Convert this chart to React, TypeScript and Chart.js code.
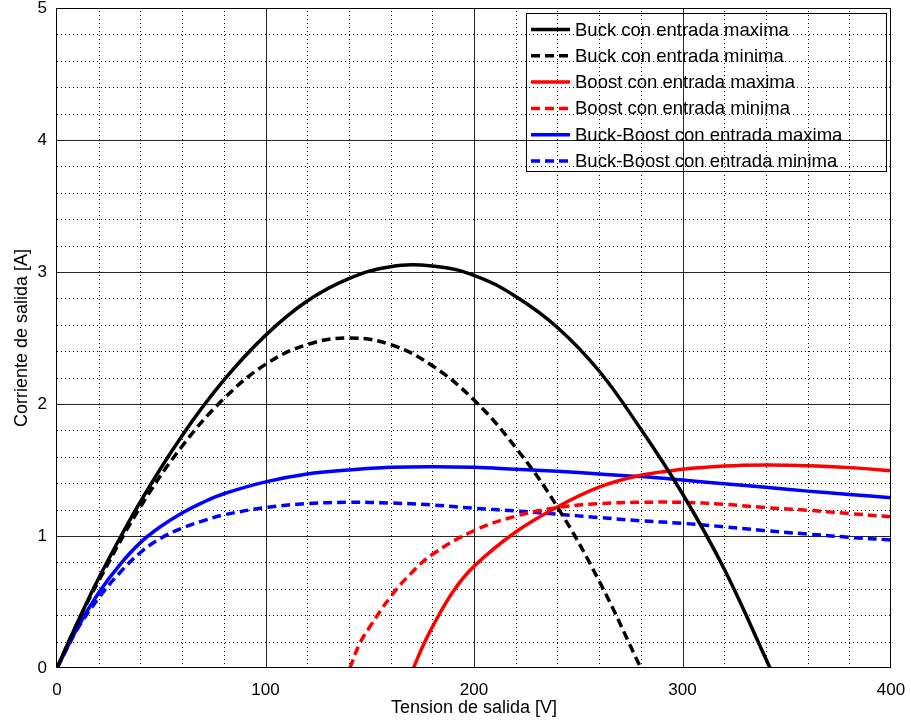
import React, { useEffect, useRef } from "react";
import { Chart, registerables } from "chart.js";

Chart.register(...registerables);

// ---- Data ----
const buckMaxV = [0, 10, 20, 40, 60, 80, 100, 120, 140, 160, 180, 200, 220, 240, 260, 280, 300, 320, 342];
const buckMaxI = [0, 0.35, 0.68, 1.26, 1.76, 2.18, 2.52, 2.78, 2.95, 3.04, 3.045, 2.975, 2.815, 2.58, 2.25, 1.81, 1.32, 0.75, 0];

const buckMinV = [0, 10, 20, 40, 60, 80, 100, 120, 140, 160, 180, 200, 220, 240, 260, 280];
const buckMinI = [0, 0.35, 0.66, 1.22, 1.68, 2.04, 2.3, 2.45, 2.5, 2.45, 2.29, 2.03, 1.67, 1.22, 0.66, 0];

const boostMaxV = [171, 175, 180, 190, 200, 220, 240, 260, 280, 300, 320, 340, 360, 380, 400];
const boostMaxI = [0, 0.15, 0.31, 0.58, 0.77, 1.03, 1.22, 1.37, 1.46, 1.505, 1.53, 1.538, 1.533, 1.518, 1.495];

const boostMinV = [140.5, 145, 150, 160, 170, 180, 200, 220, 240, 260, 280, 300, 320, 340, 360, 380, 400];
const boostMinI = [0, 0.18, 0.31, 0.54, 0.72, 0.86, 1.04, 1.15, 1.215, 1.245, 1.255, 1.255, 1.24, 1.215, 1.195, 1.17, 1.146];

const buckBoostV = [0, 10, 20, 30, 40, 50, 60, 70, 80, 100, 120, 140, 160, 180, 200, 220, 240, 260, 280, 300, 320, 340, 360, 380, 400];
const buckBoostMaxI = [0, 0.31, 0.57, 0.78, 0.95, 1.075, 1.175, 1.255, 1.32, 1.41, 1.47, 1.5, 1.52, 1.525, 1.52, 1.505, 1.49, 1.47, 1.45, 1.424, 1.395, 1.369, 1.34, 1.315, 1.29];
const buckBoostMinI = [0, 0.3, 0.53, 0.72, 0.875, 0.985, 1.06, 1.115, 1.16, 1.215, 1.245, 1.255, 1.25, 1.235, 1.21, 1.19, 1.165, 1.14, 1.115, 1.096, 1.07, 1.04, 1.015, 0.99, 0.97];

const seriesLabels = [
  "Buck con entrada maxima",
  "Buck con entrada minima",
  "Boost con entrada maxima",
  "Boost con entrada minima",
  "Buck-Boost con entrada maxima",
  "Buck-Boost con entrada minima",
];
const seriesColors = ["#000000", "#000000", "#ff0000", "#ff0000", "#0000ff", "#0000ff"];
const seriesDashed = [false, true, false, true, false, true];

const xTitle = "Tension de salida [V]";
const yTitle = "Corriente de salida [A]";
const xMin = 0, xMax = 400, xMajorStep = 100, xMinorStep = 20;
const yMin = 0, yMax = 5, yMajorStep = 1, yMinorStep = 0.2;

const FONT = '"Liberation Sans", Arial, Helvetica, sans-serif';
const DASH = [9, 5];
const LW = 3.5;

const zip = (xs: number[], ys: number[]) => xs.map((x, i) => ({ x, y: ys[i] }));

const gridPlugin = {
  id: "matlabGrid",
  beforeDatasetsDraw(chart: any) {
    const { ctx, chartArea, scales } = chart;
    const { left, right, top, bottom } = chartArea;
    const xs = scales.x, ys = scales.y;
    ctx.save();
    ctx.lineWidth = 1;
    ctx.strokeStyle = "#000";
    ctx.setLineDash([1, 3]);
    for (let v = xMin + xMinorStep; v < xMax - 1e-9; v += xMinorStep) {
      if (Math.abs(v / xMajorStep - Math.round(v / xMajorStep)) < 1e-6) continue;
      const px = Math.round(xs.getPixelForValue(v)) + 0.5;
      ctx.beginPath(); ctx.moveTo(px, bottom); ctx.lineTo(px, top); ctx.stroke();
    }
    for (let v = yMin + yMinorStep; v < yMax - 1e-9; v += yMinorStep) {
      if (Math.abs(v / yMajorStep - Math.round(v / yMajorStep)) < 1e-6) continue;
      const py = Math.round(ys.getPixelForValue(v)) + 0.5;
      ctx.beginPath(); ctx.moveTo(left, py); ctx.lineTo(right, py); ctx.stroke();
    }
    ctx.setLineDash([]);
    ctx.strokeStyle = "rgba(0,0,0,0.85)";
    for (let v = xMin + xMajorStep; v < xMax; v += xMajorStep) {
      const px = Math.round(xs.getPixelForValue(v)) + 0.5;
      ctx.beginPath(); ctx.moveTo(px, bottom); ctx.lineTo(px, top); ctx.stroke();
    }
    for (let v = yMin + yMajorStep; v < yMax; v += yMajorStep) {
      const py = Math.round(ys.getPixelForValue(v)) + 0.5;
      ctx.beginPath(); ctx.moveTo(left, py); ctx.lineTo(right, py); ctx.stroke();
    }
    ctx.restore();
  },
  afterDatasetsDraw(chart: any) {
    const { ctx, chartArea } = chart;
    const { left, right, top, bottom } = chartArea;
    ctx.save();
    ctx.lineWidth = 1;
    ctx.strokeStyle = "#000";
    ctx.setLineDash([]);
    ctx.strokeRect(Math.round(left) - 0.5, Math.round(top) + 0.5, Math.round(right) - Math.round(left), Math.round(bottom) - Math.round(top) - 1);
    ctx.restore();
  },
  afterDraw(chart: any) {
    const { ctx, chartArea } = chart;
    const boxW = 360, boxH = 158;
    const bx = Math.round(chartArea.right) - 5 - boxW;
    const by = Math.round(chartArea.top) + 5;
    ctx.save();
    ctx.lineWidth = 1;
    ctx.strokeStyle = "#000";
    ctx.setLineDash([]);
    ctx.strokeRect(bx + 0.5, by + 0.5, boxW, boxH);
    ctx.font = `18.5px ${FONT}`;
    ctx.textBaseline = "middle";
    ctx.textAlign = "left";
    ctx.fillStyle = "#000";
    seriesLabels.forEach((lab, i) => {
      const cy = by + 16.5 + i * 26.3;
      ctx.beginPath();
      ctx.lineWidth = LW;
      ctx.strokeStyle = seriesColors[i];
      ctx.setLineDash(seriesDashed[i] ? DASH : []);
      ctx.moveTo(bx + 5, cy);
      ctx.lineTo(bx + 44, cy);
      ctx.stroke();
      ctx.fillText(lab, bx + 49, cy + 1);
    });
    ctx.restore();
  },
};

export default function App() {
  const ref = useRef<HTMLCanvasElement>(null);
  useEffect(() => {
    if (!ref.current) return;
    const seriesData = [
      zip(buckMaxV, buckMaxI),
      zip(buckMinV, buckMinI),
      zip(boostMaxV, boostMaxI),
      zip(boostMinV, boostMinI),
      zip(buckBoostV, buckBoostMaxI),
      zip(buckBoostV, buckBoostMinI),
    ];
    const chart = new Chart(ref.current, {
      type: "line",
      data: {
        datasets: seriesData.map((d, i) => ({
          label: seriesLabels[i],
          data: d,
          borderColor: seriesColors[i],
          backgroundColor: seriesColors[i],
          borderWidth: LW,
          borderDash: seriesDashed[i] ? DASH : [],
          pointRadius: 0,
          fill: false,
          tension: 0.4,
        })),
      },
      options: {
        animation: false,
        responsive: false,
        maintainAspectRatio: false,
        layout: { padding: { left: 0, right: 20, top: 8, bottom: 0 } },
        plugins: { legend: { display: false }, tooltip: { enabled: false }, title: { display: false } },
        scales: {
          x: {
            type: "linear",
            min: xMin,
            max: xMax,
            ticks: { stepSize: xMajorStep, color: "#000", font: { size: 17, family: FONT }, padding: 12, maxRotation: 0 },
            grid: { display: false, drawTicks: false },
            border: { display: false },
            title: { display: true, text: xTitle, color: "#000", font: { size: 18, family: FONT }, padding: { top: 0, bottom: 5 } },
            afterFit(s: any) { s.height = 56; s.paddingLeft = 0; s.paddingRight = 0; },
          },
          y: {
            type: "linear",
            min: yMin,
            max: yMax,
            ticks: { stepSize: yMajorStep, color: "#000", font: { size: 17, family: FONT }, padding: 10 },
            grid: { display: false, drawTicks: false },
            border: { display: false },
            title: { display: true, text: yTitle, color: "#000", font: { size: 18, family: FONT }, padding: { top: 11, bottom: 0 } },
            afterFit(s: any) { s.width = 57; s.paddingTop = 0; s.paddingBottom = 0; },
          },
        },
      },
      plugins: [gridPlugin],
    } as any);
    return () => chart.destroy();
  }, []);
  return (
    <div style={{ position: "fixed", left: 0, top: 0, width: 911, height: 724, background: "#fff" }}>
      <canvas ref={ref} width={911} height={724} style={{ width: 911, height: 724, display: "block" }} />
    </div>
  );
}
